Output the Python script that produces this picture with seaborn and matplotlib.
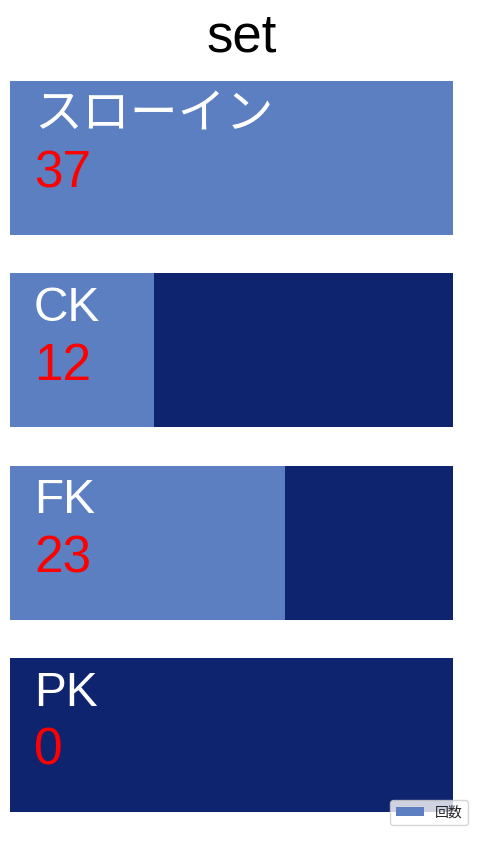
import matplotlib
matplotlib.use("Agg")
import matplotlib.pyplot as plt
import seaborn as sns

# data
categories = ["スローイン", "CK", "FK", "PK"]
counts = [37, 12, 23, 0]
total = 37

sns.set_style("white")
plt.rcParams['font.family'] = ['Liberation Sans', 'Noto Sans CJK JP', 'DejaVu Sans']

fig = plt.figure(figsize=(4.84, 8.42), dpi=100)
ax = fig.add_axes([10 / 484, 1 - 812 / 842, 443 / 484, 731 / 842])

# background bar (full length) then actual count on top
sns.barplot(x=[total] * len(categories), y=categories, color="#0f246e",
            orient="h", saturation=1, width=0.8, linewidth=0, ax=ax)
sns.barplot(x=counts, y=categories, color="#5b7fc0", orient="h",
            saturation=1, width=0.8, linewidth=0, label="回数", ax=ax)

ax.set_xlim(0, total)
ax.set_ylim(len(categories) - 0.6, -0.4)
ax.set_axis_off()
handles, labels = ax.get_legend_handles_labels()
if ax.get_legend():
    ax.get_legend().remove()

for i, (c, v) in enumerate(zip(categories, counts)):
    ax.text(total * 24 / 443, i - 0.153, c, color="white", fontsize=34.5,
            va="baseline", ha="left")
    ax.text(total * 24 / 443, i + 0.153, str(v), color="red", fontsize=37,
            va="baseline", ha="left")

fig.text(0.5, 1 - 52 / 842, "set", ha="center", va="baseline", fontsize=38,
         color="black")

fig.legend(handles, labels, loc="lower right", fontsize=10, borderaxespad=0,
           bbox_to_anchor=(468 / 484, 17 / 842))

fig.savefig("out.png", dpi=100)
